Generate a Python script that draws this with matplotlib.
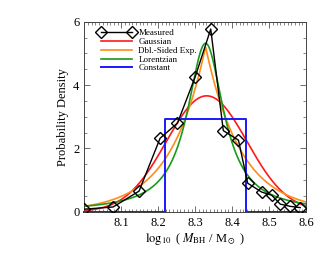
import numpy as np
import matplotlib
matplotlib.use("Agg")
import matplotlib.pyplot as plt
from matplotlib.ticker import MultipleLocator

plt.rcParams['font.family'] = ['Liberation Serif', 'DejaVu Serif']
plt.rcParams['mathtext.fontset'] = 'stix'

# Measured distribution
meas_x = [8.000, 8.078, 8.148, 8.205, 8.252, 8.300, 8.342, 8.376, 8.417,
          8.442, 8.480, 8.507, 8.530, 8.557, 8.584]
meas_y = [0.08, 0.15, 0.65, 2.32, 2.80, 4.26, 5.77, 2.56, 2.26,
          0.90, 0.62, 0.52, 0.24, 0.17, 0.13]

# Fitted model parameters (centre, peak height)
gauss_mu, gauss_peak = 8.331, 3.66
dexp_mu, dexp_peak = 8.328, 5.21
lor_mu, lor_peak = 8.328, 5.32

# Constant (top-hat) model
const_lo, const_hi, const_h = 8.219, 8.437, 2.93

x = np.linspace(8.0, 8.6, 600)
sig = 1.0 / (gauss_peak * np.sqrt(2 * np.pi))
gauss = gauss_peak * np.exp(-(x - gauss_mu)**2 / (2 * sig**2))
b = 1.0 / (2 * dexp_peak)
dexp = dexp_peak * np.exp(-np.abs(x - dexp_mu) / b)
gam = 1.0 / (np.pi * lor_peak)
lor = lor_peak / (1 + ((x - lor_mu) / gam)**2)

fig = plt.figure(figsize=(3.32, 2.56), dpi=100)
ax = fig.add_axes([0.254, 0.173, 0.668, 0.742])

ax.plot(meas_x, meas_y, color='black', lw=1.0, marker='D', ms=6.5,
        mfc='none', mec='black', mew=1.0, label='Measured', zorder=5)
ax.plot(x, gauss, color='#ff1a1a', lw=1.2, label='Gaussian')
ax.plot(x, dexp, color='#ff8c1a', lw=1.2, label='Dbl.-Sided Exp.')
ax.plot(x, lor, color='#1a9a1a', lw=1.2, label='Lorentzian')
ax.plot([8.0, const_lo, const_lo, const_hi, const_hi, 8.6],
        [0, 0, const_h, const_h, 0, 0], color='#1a1aff', lw=1.4,
        label='Constant', clip_on=False)

ax.set_xlim(8.0, 8.6)
ax.set_ylim(0, 6)
ax.xaxis.set_major_locator(MultipleLocator(0.1))
ax.xaxis.set_minor_locator(MultipleLocator(0.01))
ax.yaxis.set_major_locator(MultipleLocator(2))
ax.yaxis.set_minor_locator(MultipleLocator(0.5))
ax.set_xticks([8.1, 8.2, 8.3, 8.4, 8.5, 8.6])
ax.tick_params(which='both', direction='in', top=True, right=True,
               labelsize=9, color='#555555')
ax.tick_params(which='major', length=4, width=0.6)
ax.tick_params(which='minor', length=2, width=0.5)
for s in ax.spines.values():
    s.set_linewidth(0.7)
    s.set_color('#444444')

ax.set_xlabel(r'$\log_{10}$ ( $M_{\rm BH}$ / M$_\odot$ )', fontsize=9, labelpad=2)
ax.set_ylabel('Probability Density', fontsize=9, labelpad=3)

ax.legend(loc='upper left', frameon=False, fontsize=6.5, handlelength=4.0,
          handletextpad=0.4, labelspacing=0.05, numpoints=2,
          bbox_to_anchor=(0.04, 0.99), borderaxespad=0.2)

fig.savefig('out.png', dpi=100)
